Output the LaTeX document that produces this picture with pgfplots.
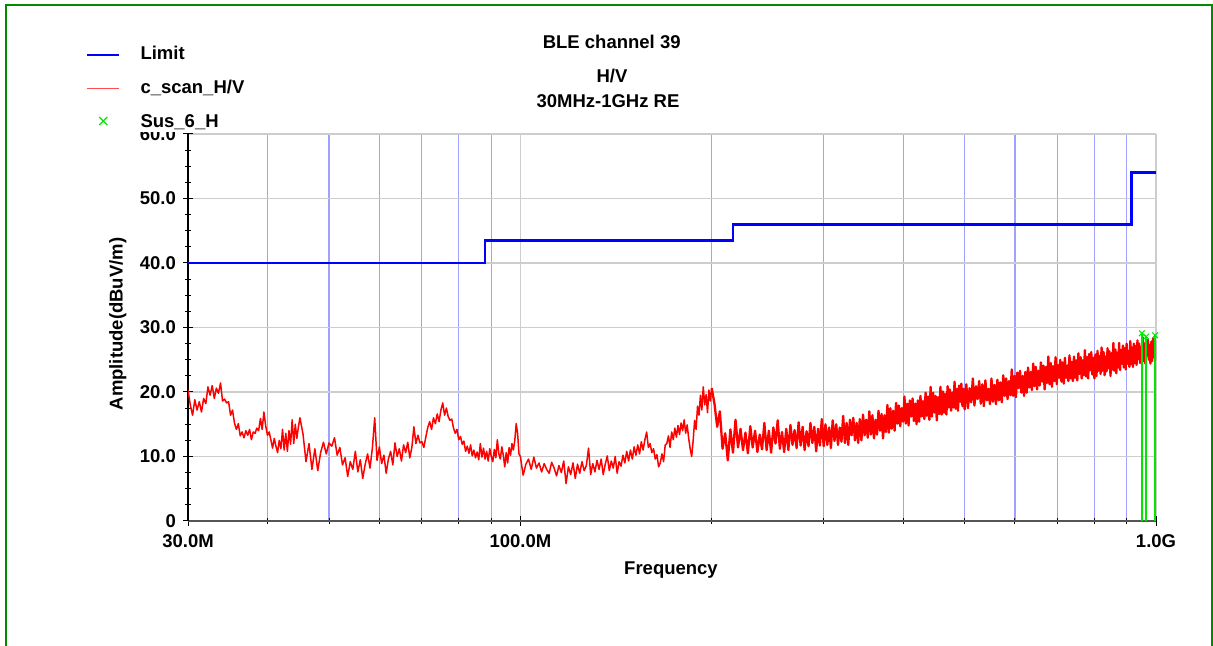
\documentclass[border=0pt]{standalone}
\usepackage{pgfplots}
\pgfplotsset{compat=1.18}
\usepackage{pgfplotstable}
\usepackage{fontspec}
\setmainfont{Liberation Sans}
\definecolor{framegreen}{RGB}{0,140,0}
\definecolor{limblue}{RGB}{0,0,255}
\definecolor{scanred}{RGB}{255,0,0}
\definecolor{susgreen}{RGB}{0,230,0}
\definecolor{gridgray}{RGB}{205,205,205}
\definecolor{gridblue}{RGB}{160,160,255}
\definecolor{axgray}{RGB}{85,85,85}
\newcommand\lab{\bfseries\fontsize{18.5bp}{22bp}\selectfont}

\pgfplotstableread{
f a
30 40
88 40
88 43.5
216 43.5
216 46
915 46
915 54
1000 54
}\limit

\pgfplotstableread{
f a
950 29.1
965 28.6
997 28.8
}\sus

\pgfplotstableread{
f a
30 20.3
30.25 18.0
30.5 16.4
30.75 18.8
31 17.2
31.25 18.5
31.5 16.9
31.75 19.0
32 18.2
32.25 20.8
32.5 19.5
32.75 21.0
33 19.0
33.25 20.6
33.5 19.8
33.75 21.4
34 18.6
34.25 18.9
34.5 18.3
34.75 18.5
35 16.4
35.25 17.2
35.5 15.2
35.75 14.2
36 15.1
36.25 13.2
36.5 13.8
36.75 12.9
37 14.0
37.25 13.3
37.5 14.2
37.75 12.6
38 13.8
38.25 13.6
38.5 14.4
38.75 14.0
39 15.9
39.25 14.2
39.5 16.9
39.75 14.8
40 13.3
40.25 13.8
40.5 12.6
40.75 11.3
41 12.8
41.25 11.6
41.5 10.6
41.75 12.5
42 11.2
42.25 14.2
42.5 11.0
42.75 13.6
43 10.8
43.25 14.0
43.5 11.9
43.75 15.7
44 12.0
44.25 15.0
44.5 12.8
44.75 14.6
45 16.0
45.5 13.5
46 9.2
46.5 12.0
47 8.0
47.5 11.2
48 7.8
48.5 10.6
49 12.2
49.5 10.4
50 12.1
50.5 11.6
51 12.9
51.5 10.2
52 11.4
52.5 8.7
53 9.8
53.5 6.9
54 9.2
54.5 8.0
55 10.8
55.5 7.6
56 9.5
56.5 6.6
57 8.8
57.5 10.4
58 8.2
58.5 11.3
59 16.0
59.5 9.4
60 11.5
60.5 8.9
61 10.2
61.5 7.4
62 9.6
62.5 10.8
63 8.7
63.5 12.1
64 10.0
64.5 11.2
65 9.3
65.5 11.8
66 10.6
66.5 12.2
67 9.8
67.5 11.4
68 14.6
68.5 12.0
69 13.3
69.5 12.1
70 12.3
70.5 11.4
71 13.0
71.5 14.5
72 15.4
72.5 14.2
73 16.0
73.5 15.1
74 16.6
74.5 15.4
75 17.2
75.5 18.3
76 16.4
76.5 17.5
77 16.2
77.5 15.6
78 15.8
78.5 14.4
79 13.6
79.5 14.2
80 12.6
80.5 13.1
81 11.9
81.5 12.4
82 10.8
82.5 11.6
83 10.5
83.5 11.8
84 10.1
84.5 11.0
85 9.8
85.5 10.7
86 9.5
86.5 12.0
87 9.9
87.5 11.3
88 9.6
88.5 10.8
89 9.3
89.5 11.2
90 10.0
90.5 9.2
91 11.1
91.5 9.8
92 12.6
92.5 10.4
93 9.6
93.5 11.5
94 10.2
94.5 8.4
95 10.6
95.5 9.0
96 11.4
96.5 10.2
97 12.0
97.5 11.0
98 12.5
98.5 15.1
99 13.6
99.5 10.4
100 10.0
101 7.1
102 8.8
103 9.6
104 8.0
105 9.9
106 8.2
107 9.0
108 7.6
109 8.9
110 8.0
111 7.4
112 9.1
113 8.2
114 7.0
115 8.6
116 7.5
117 9.3
118 5.8
119 8.4
120 7.2
121 9.0
122 6.6
123 8.8
124 7.4
125 9.2
126 7.8
127 8.6
128 11.3
129 7.2
130 8.9
131 7.6
132 9.4
133 8.0
134 9.6
135 7.2
136 8.8
137 10.1
138 7.8
139 9.3
140 8.2
141 10.0
142 7.4
143 9.2
144 8.5
145 10.2
146 9.0
147 10.8
148 9.3
149 11.0
150 9.6
151 11.5
152 10.2
153 11.8
154 10.4
155 12.3
156 11.0
157 12.6
158 13.8
159 11.4
160 12.0
161 10.6
162 11.2
163 9.6
164 10.3
165 8.4
166 9.0
167 10.4
168 9.2
169 11.8
170 12.0
171 13.2
172 11.4
173 13.8
174 12.6
175 14.4
176 13.0
177 14.8
178 13.4
179 15.2
180 14.0
181 15.7
182 13.6
183 14.9
184 12.8
185 11.2
186 10.0
187 12.4
188 15.6
189 14.2
190 17.8
191 16.4
192 19.5
193 17.2
194 20.8
195 18.0
196 19.6
197 16.8
198 20.3
199 18.6
200 20.6
}\scanlow

\pgfplotstableread{
f a
200 20.6
202 18.2
204 14.6
206 17.0
208 11.2
210 13.6
212 9.4
214 14.2
216 10.6
218 15.7
220 11.4
222 14.3
224 11.0
226 13.7
228 10.5
230 14.7
232 11.4
234 14.0
236 10.7
238 13.4
240 11.1
242 15.2
244 11.0
246 14.0
248 10.6
250 14.5
252 12.0
254 15.6
256 11.2
258 13.8
260 10.7
262 14.3
264 11.0
266 14.9
268 11.8
270 14.1
272 11.3
274 15.3
276 11.7
278 14.6
280 11.0
282 13.9
284 11.6
286 15.2
288 12.1
290 14.6
292 10.8
294 14.3
296 11.7
298 15.8
300 11.6
302 15.0
304 11.8
306 14.5
308 11.3
310 15.6
312 12.4
314 15.0
316 11.8
318 14.5
320 12.3
322 16.3
324 12.1
326 15.2
328 11.8
330 15.7
332 13.3
334 16.0
336 12.5
338 15.2
340 12.1
342 15.8
344 12.5
346 16.5
348 13.3
350 15.7
352 12.9
354 17.0
356 13.4
358 16.4
360 12.8
362 15.7
364 13.4
366 17.1
368 14.0
370 16.6
372 12.8
374 16.4
376 13.8
378 18.0
380 13.7
382 17.5
384 14.3
386 17.1
388 14.0
390 18.3
392 15.1
394 17.9
396 14.7
398 17.5
400 15.4
402 19.3
404 15.1
406 18.2
408 14.8
410 18.7
412 16.2
414 19.0
416 15.5
418 18.2
420 15.0
422 18.7
424 15.4
426 19.4
428 16.2
430 18.6
432 15.8
434 19.9
436 16.3
438 19.3
440 15.7
442 20.8
444 16.2
446 19.9
448 16.8
450 19.4
452 15.6
454 19.2
456 16.6
458 20.8
460 16.5
462 20.1
464 16.8
466 19.7
468 16.5
470 20.9
472 17.6
474 20.4
476 17.1
478 19.9
480 17.6
482 21.6
484 17.4
486 20.5
488 17.1
490 21.0
492 18.5
494 21.3
496 17.8
498 20.5
500 17.3
503 21.2
506 17.5
509 20.6
512 18.4
515 22.1
518 17.9
521 20.9
524 18.9
527 21.7
530 18.2
533 21.2
536 17.8
539 21.8
542 18.7
545 20.5
548 18.1
551 22.1
554 18.5
557 21.1
560 18.1
563 21.9
566 18.7
569 21.5
572 18.4
575 22.6
578 19.4
581 22.1
584 18.9
587 21.7
590 19.5
593 23.5
596 19.4
599 22.5
602 19.2
605 23.0
608 20.6
611 23.3
614 19.9
617 22.5
620 19.4
623 23.1
626 19.9
629 23.8
632 20.7
635 23.1
638 20.3
641 24.4
644 20.9
647 23.9
650 20.4
653 23.3
656 21.0
659 24.6
662 21.6
665 24.1
668 20.4
671 23.9
674 21.4
677 25.5
680 21.2
683 24.5
686 20.8
689 24.0
692 21.7
695 25.4
698 21.2
701 24.2
704 22.2
707 25.0
710 21.6
713 24.6
716 21.3
719 25.3
722 22.2
725 24.1
728 21.7
731 25.7
734 22.1
737 24.7
740 21.7
743 25.5
746 22.2
749 24.9
752 21.8
755 26.0
758 22.8
761 25.4
764 22.1
767 24.9
770 22.6
773 26.5
776 22.4
779 25.4
782 22.1
785 25.9
788 23.4
791 26.2
794 22.7
797 25.3
800 22.1
803 25.8
806 22.5
809 26.4
812 23.3
815 25.6
818 22.8
821 26.9
824 23.3
827 26.2
830 22.6
833 25.5
836 23.2
839 26.8
842 23.7
845 26.3
848 22.5
851 26.0
854 23.5
857 27.6
860 23.3
863 26.6
866 22.9
869 26.1
872 23.8
875 27.6
878 23.4
881 26.5
884 24.4
887 27.2
890 23.8
893 26.8
896 23.5
899 27.5
902 24.4
905 26.3
908 23.9
911 27.9
914 24.3
917 26.9
920 23.9
923 27.5
926 24.5
929 27.1
932 24.2
935 28.0
938 25.1
941 27.5
944 24.5
947 27.0
950 24.9
953 28.5
956 24.8
959 27.5
962 24.4
965 27.9
968 25.7
971 28.1
974 25.0
977 27.3
980 24.4
983 27.8
986 24.8
989 28.3
992 25.4
995 27.5
998 25.0
1000 27.9
}\scanhigh

\begin{document}
\begin{tikzpicture}
\useasboundingbox (0,0) rectangle (1213bp,646bp);
\fill[white] (0,0) rectangle (1213bp,646bp);
\draw[framegreen, line width=2bp] (6bp,-10bp) rectangle (1211.5bp,641.3bp);
\begin{axis}[
  at={(188bp,125bp)}, anchor=south west, scale only axis,
  width=968bp, height=387bp,
  xmode=log, xmin=30, xmax=1000, ymin=0, ymax=60,
  axis x line*=bottom, axis y line*=left,
  x axis line style={axgray, line width=2bp},
  y axis line style={black, line width=1.2bp},
  xtick={30,100,1000}, xticklabels={30.0M,100.0M,1.0G},
  minor xtick={40,50,60,70,80,90,200,300,400,500,600,700,800,900},
  ytick={0,10,20,30,40,50,60}, yticklabels={0,10.0,20.0,30.0,40.0,50.0,60.0},
  minor y tick num=3,
  xmajorgrids, xminorgrids, ymajorgrids,
  major grid style={gridgray, line width=1.3bp},
  minor grid style={gridblue, line width=1.1bp},
  tick align=center,
  major tick length=10bp, minor tick length=6bp,
  tick style={black, line width=1bp},
  xticklabel style={font=\lab, inner sep=0pt, anchor=base, yshift=-21.5bp},
  yticklabel style={font=\lab, inner sep=0pt, anchor=east, xshift=-7bp},
  legend style={at={(axis description cs:-0.105372,1.22739)}, anchor=north west,
    draw=none, fill=white, inner sep=0pt, outer sep=0pt, row sep=16bp, font=\lab,
    nodes={inner sep=0pt, text height=14bp, text depth=4bp},
    /tikz/every odd column/.append style={column sep=20bp}},
  legend cell align=left,
  legend image code/.code={\draw[#1] (0bp,0bp) -- (32bp,0bp);},
]
\addplot[limblue, line width=2.5bp] table[x=f, y=a] {\limit};
\addlegendentry{Limit}
\addplot[scanred, line width=1.5bp, line join=round,
  legend image code/.code={\draw[scanred!70, line width=1bp] (0bp,0bp) -- (32bp,0bp);}]
  table[x=f, y=a] {\scanlow};
\addlegendentry{c\_scan\_H/V}
\addplot[scanred, line width=2.3bp, line join=round, forget plot]
  table[x=f, y=a] {\scanhigh};
\addplot[susgreen, line width=1.5bp, ycomb, mark=x, mark size=4bp,
  mark options={line width=1bp},
  legend image code/.code={\draw[susgreen, line width=1.1bp] (12bp,-2bp) -- (20bp,6bp) (12bp,6bp) -- (20bp,-2bp);}]
  table[x=f, y=a] {\sus};
\addlegendentry{Sus\_6\_H}
\end{axis}
\node[font=\lab, anchor=base] at (611.7bp,597.7bp) {BLE channel 39};
\node[font=\lab, anchor=base] at (612bp,563.7bp) {H/V};
\node[font=\lab, anchor=base] at (608bp,538.7bp) {30MHz-1GHz RE};
\node[font=\lab, anchor=base] at (671bp,71bp) {Frequency};
\node[font=\lab, anchor=base, rotate=90] at (122.7bp,322bp) {Amplitude(dBuV/m)};
\end{tikzpicture}
\end{document}
